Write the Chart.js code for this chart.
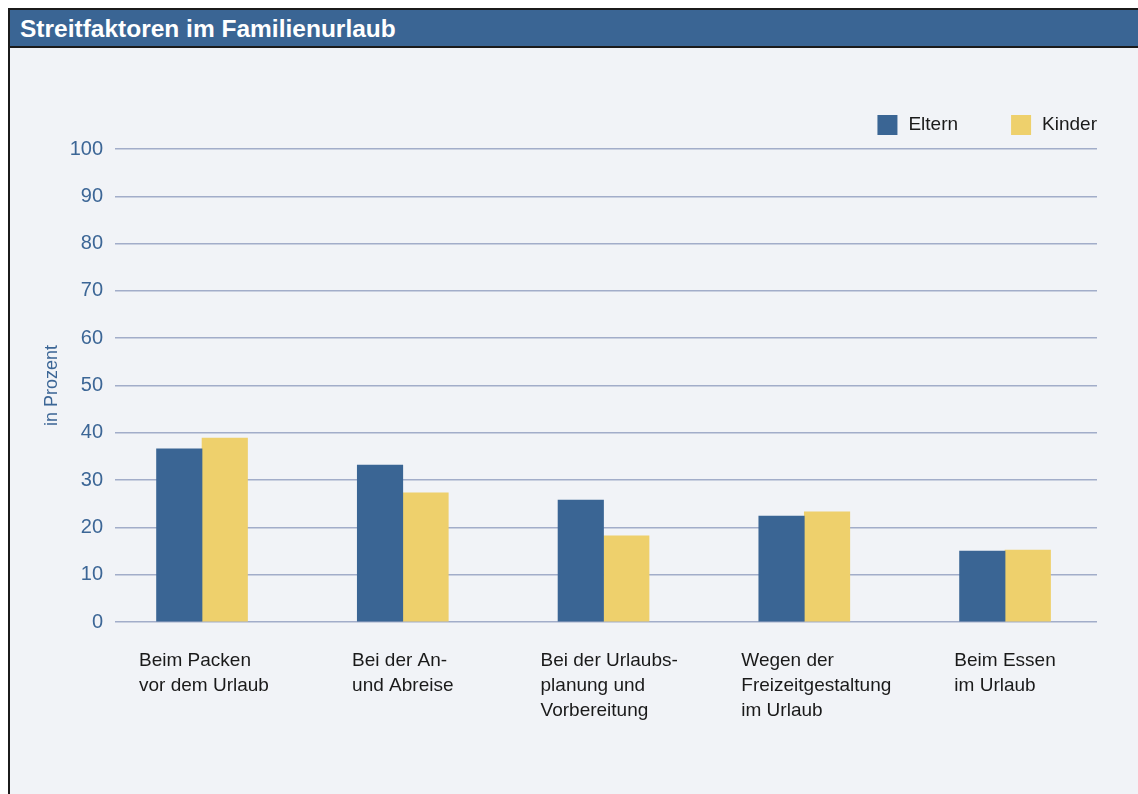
<!DOCTYPE html>
<html>
<head>
<meta charset="utf-8">
<script src="https://cdn.jsdelivr.net/npm/chart.js@4/dist/chart.umd.min.js"></script>
<style>
  html, body { margin: 0; padding: 0; background: #fff; width: 1138px; height: 794px; overflow: hidden; }
  .frame {
    position: absolute; left: 8px; top: 8px; width: 1200px; height: 900px;
    border: 2px solid #1b1b1b; background: #f1f3f7;
  }
  .header {
    height: 36px; background: #3a6594; border-bottom: 2px solid #1b1b1b;
    color: #fff; font: bold 24.5px "Liberation Sans", Arial, sans-serif;
    line-height: 37px; padding-left: 10px;
  }
  #wrap { position: absolute; left: 0; top: 0; width: 1138px; height: 794px; }
  #chart { display: block; }
</style>
</head>
<body>
<div class="frame"><div class="header">Streitfaktoren im Familienurlaub</div></div>
<div id="wrap"><canvas id="chart" width="1138" height="794"></canvas></div>
<script>
// data
const categories = [
  ['Beim Packen', 'vor dem Urlaub'],
  ['Bei der An-', 'und Abreise'],
  ['Bei der Urlaubs-', 'planung und', 'Vorbereitung'],
  ['Wegen der', 'Freizeitgestaltung', 'im Urlaub'],
  ['Beim Essen', 'im Urlaub']
];
const eltern = [36.6, 33.2, 25.8, 22.4, 15.0];
const kinder = [38.9, 27.3, 18.2, 23.3, 15.2];
const yTicks = [0, 10, 20, 30, 40, 50, 60, 70, 80, 90, 100];

const BLUE = '#3a6594';
const YELLOW = '#eed06c';
const FONT = '"Liberation Sans", Arial, sans-serif';

// category labels under the bars, left aligned as a block
const catLabels = {
  id: 'catLabels',
  afterDraw(chart) {
    const ctx = chart.ctx;
    const x = chart.scales.x;
    ctx.save();
    ctx.font = '19px ' + FONT;
    ctx.fillStyle = '#1a1a1a';
    ctx.textAlign = 'left';
    ctx.textBaseline = 'middle';
    categories.forEach((lines, i) => {
      const cx = x.getPixelForValue(i);
      const w = Math.max(...lines.map(l => ctx.measureText(l).width));
      const left = cx - Math.min(w / 2, 63);
      lines.forEach((l, k) => ctx.fillText(l, left, 661 + k * 25));
    });
    ctx.restore();
  }
};

// legend top right
const legendRight = {
  id: 'legendRight',
  afterDraw(chart) {
    const ctx = chart.ctx;
    ctx.save();
    ctx.font = '19px ' + FONT;
    ctx.textBaseline = 'middle';
    let right = chart.chartArea.right;
    const items = chart.data.datasets.slice().reverse();
    items.forEach(ds => {
      const tw = ctx.measureText(ds.label).width;
      const tx = right - tw;
      const bx = tx - 11 - 20;
      ctx.fillStyle = ds.backgroundColor;
      ctx.fillRect(bx, 115, 20, 20);
      ctx.fillStyle = '#1a1a1a';
      ctx.fillText(ds.label, tx, 125);
      right = bx - 53;
    });
    ctx.restore();
  }
};

new Chart(document.getElementById('chart'), {
  type: 'bar',
  data: {
    datasets: [
      { label: 'Eltern', data: eltern.map((v, i) => ({ x: i, y: v })), backgroundColor: BLUE },
      { label: 'Kinder', data: kinder.map((v, i) => ({ x: i, y: v })), backgroundColor: YELLOW }
    ]
  },
  options: {
    responsive: false,
    animation: false,
    maintainAspectRatio: false,
    barThickness: 45.5,
    layout: { padding: { top: 149, bottom: 172, left: 0, right: 41 } },
    plugins: { legend: { display: false }, tooltip: { enabled: false } },
    scales: {
      x: {
        type: 'linear',
        display: false,
        offset: false,
        grid: { offset: false },
        min: -0.4335,
        max: 4.458
      },
      y: {
        min: 0,
        max: 100,
        afterBuildTicks: s => { s.ticks = yTicks.map(v => ({ value: v })); },
        afterFit: s => { s.width = 115; },
        border: { display: false },
        grid: { color: '#a2adc9', lineWidth: 1.5, drawTicks: false },
        ticks: { color: '#3c6696', padding: 12, font: { family: FONT, size: 20 } },
        title: {
          display: true,
          text: 'in Prozent',
          color: '#3c6696',
          padding: { top: 41, bottom: 0 },
          font: { family: FONT, size: 18 }
        }
      }
    }
  },
  plugins: [catLabels, legendRight]
});
</script>
</body>
</html>
